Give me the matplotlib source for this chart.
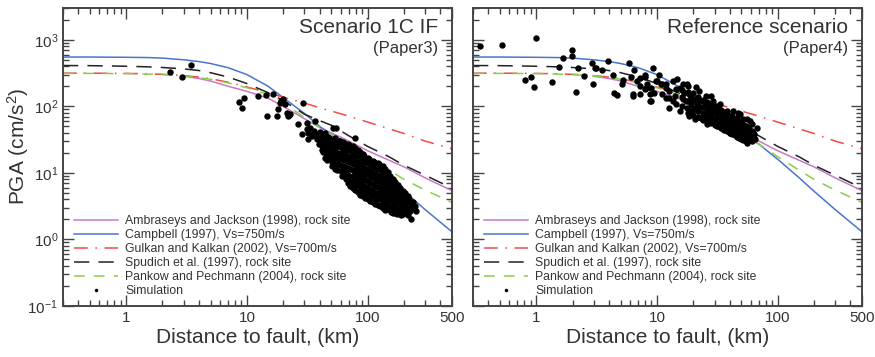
import matplotlib
matplotlib.use("Agg")
import matplotlib.pyplot as plt
from matplotlib.lines import Line2D
from matplotlib.ticker import LogLocator, NullFormatter, FixedLocator, FixedFormatter

plt.rcParams['font.family'] = ['Liberation Sans', 'DejaVu Sans']
plt.rcParams['mathtext.fontset'] = 'custom'
plt.rcParams['mathtext.rm'] = 'Liberation Sans'
plt.rcParams['mathtext.it'] = 'Liberation Sans:italic'

GRAY = '#444444'

# distances (km) at which the attenuation curves were read
CURVE_DIST = [0.3, 0.5, 1, 1.5, 2, 3, 4, 5, 7, 10, 15, 20, 30, 40, 50, 70, 100, 150, 200, 300, 500]
CAMPBELL = [550, 550, 545, 540, 530, 500, 470, 440, 380, 300, 200, 135, 78, 50, 38, 27, 16, 8.5, 5.3, 2.8, 1.3]
SPUDICH = [410, 408, 400, 392, 383, 365, 345, 320, 275, 220, 160, 122, 76, 61, 52, 36, 25, 17.5, 13, 9.2, 5.9]
GULKAN = [315, 315, 312, 308, 302, 290, 275, 260, 230, 195, 160, 137, 112, 95, 85, 71, 58, 46, 39, 30, 23]
PANKOW = [312, 312, 310, 305, 300, 288, 270, 255, 225, 190, 150, 113, 68, 48, 38, 27, 17.5, 11, 8.0, 5.5, 3.6]
AMBR_DIST = [3, 4, 5, 7, 10, 15, 20, 30, 40, 50, 70, 100, 150, 200, 300, 500]
AMBRASEYS = [282, 262, 240, 200, 168, 132, 100, 65, 48, 40, 30, 21.5, 15.5, 12.3, 8.4, 5.4]

LABELS = ['Ambraseys and Jackson (1998), rock site',
          'Campbell (1997), Vs=750m/s',
          'Gulkan and Kalkan (2002), Vs=700m/s',
          'Spudich et al. (1997), rock site',
          'Pankow and Pechmann (2004), rock site',
          'Simulation']

# simulated PGA, scenario 1C IF (Paper3)
SIM1_DIST = [2.3, 2.9, 3.46, 8.6, 9.1, 9.5, 12.4, 14.4, 14.7, 16.5, 17.8, 18.2, 18.9, 19.2, 20, 20.5,
             21.6, 22.4, 22.8, 22, 26.6, 29.3, 28.7, 31.6, 31.2, 32.2, 31.9, 33.4, 35.4, 34.8, 36.8,
             36.2, 38.2, 37.6, 40.5, 42.9, 44.5, 49, 48.5, 49.5, 51.9, 51.2, 52.5, 54, 54.8, 53.5,
             57, 56, 57.5, 59.3, 61.6, 65.2, 67.8, 69, 79,
             40, 41, 39.5, 41.5,
             44, 45, 43.5, 45.5, 44.5,
             48, 50, 49, 48.5, 50.5,
             53, 55, 54, 53.5, 55.5, 54,
             58, 60, 59, 61, 58.5, 60,
             64, 66, 65, 67, 64.5, 65.5, 66,
             70, 73, 71, 74, 72, 69, 73, 71,
             78, 80, 77, 81, 79, 78, 80, 79,
             86, 88, 85, 89, 87, 86, 88, 87,
             94, 96, 93, 97, 95, 94, 96, 95,
             103, 106, 104, 107, 105, 103, 106, 104,
             114, 117, 115, 118, 116, 114, 117, 116,
             125, 129, 126, 130, 127, 125, 128, 127,
             138, 142, 139, 143, 140, 138, 141, 140,
             152, 156, 153, 157, 154, 152, 155,
             167, 171, 168, 172, 169, 167,
             184, 188, 185, 189, 186, 188,
             203, 207, 204, 206,
             222, 227, 224, 228,
             245, 250,
             42.5, 43, 42, 42.5,
             46.7, 47, 46, 47.5, 46.5,
             51.5, 52, 51, 52.5, 51.5, 51,
             56.6, 57, 56, 57.5, 56.5, 56,
             62.2, 63, 62, 63.5, 62.5, 62, 61.5,
             68.5, 69, 68, 69.5, 68.5, 68, 69, 68.5,
             75.4, 76, 75, 76.5, 75.5, 75, 76, 75.4,
             82.9, 83.5, 82, 84, 83, 82.5, 83.5, 83,
             91, 92, 90, 92.5, 91, 90.5, 92, 91,
             100, 101, 99, 102, 100, 99.5, 101, 100,
             110, 111, 109, 112, 110, 109, 111, 110,
             121, 122, 120, 123, 121, 120, 122, 121,
             133, 135, 132, 136, 133, 132, 134, 133,
             147, 149, 146, 150, 147, 146, 148,
             161, 163, 160, 164, 161, 160, 162,
             177, 179, 176, 180, 177, 176,
             196, 198, 195, 199, 196,
             215, 217, 214, 218,
             236, 238]
SIM1_PGA = [333, 280, 424, 115, 93, 132, 141, 146, 71, 151, 71, 90, 111, 119, 127, 107,
            79, 73, 76, 71, 54, 111, 38, 45, 56, 40, 32, 47, 38, 36, 60,
            42, 32, 38, 33, 28, 40, 30, 24, 17, 47, 24, 19, 33, 47, 21,
            25, 17, 16, 30, 20, 27, 23, 17, 33,
            41, 33, 27, 22,
            37, 30, 24.4, 20, 17,
            33, 27, 22, 18, 14.6,
            31, 25, 20.6, 17, 13.6, 11.5,
            30, 24.4, 20, 16, 13.2, 10.7,
            28, 23, 18.6, 15, 12.3, 10, 8.1,
            26, 21, 17.3, 14.1, 11.5, 9.3, 7.6, 6.4,
            24, 19, 15.6, 12.7, 10.4, 8.4, 6.9, 5.6,
            20.6, 17, 13.6, 11.1, 9.0, 7.3, 6.0, 4.7,
            18, 14.6, 11.9, 9.7, 7.9, 6.4, 5.2, 4.2,
            16, 13.2, 10.7, 8.7, 7.1, 5.8, 4.7, 3.8,
            14.6, 11.9, 9.7, 7.9, 6.4, 5.2, 4.2, 3.4,
            13.6, 11.1, 9.0, 7.3, 6.0, 4.9, 4.0, 3.2,
            11.5, 9.3, 7.6, 6.2, 5.0, 4.1, 3.3, 2.8,
            9.0, 7.3, 6.0, 4.9, 4.0, 3.2, 2.6,
            7.3, 6.0, 4.9, 4.0, 3.2, 2.5,
            6.0, 4.9, 4.0, 3.2, 2.6, 2.3,
            4.9, 4.0, 3.2, 2.6,
            4.1, 3.3, 2.7, 2.0,
            3.2, 2.7,
            38, 31, 25, 20.5,
            35, 28, 23, 18.5, 15.5,
            32, 26, 21, 17.5, 14, 12.5,
            30, 25, 20, 16.5, 13.5, 11,
            29, 23.5, 19, 15.5, 12.7, 10.3, 9.0,
            27, 22, 18, 14.5, 12, 9.7, 7.9, 7.0,
            25, 20, 16.5, 13.4, 11, 8.9, 7.2, 6.0,
            22, 18, 14.6, 12, 9.8, 8, 6.5, 5.2,
            19.3, 15.8, 12.8, 10.4, 8.5, 6.9, 5.6, 4.5,
            17, 13.9, 11.3, 9.2, 7.5, 6.1, 5.0, 4.0,
            15.3, 12.5, 10.2, 8.3, 6.8, 5.5, 4.5, 3.6,
            14, 11.5, 9.3, 7.6, 6.2, 5.0, 4.1, 3.3,
            12.5, 10.2, 8.3, 6.8, 5.5, 4.5, 3.7, 3.0,
            10.2, 8.3, 6.8, 5.5, 4.5, 3.6, 2.9,
            8.1, 6.6, 5.4, 4.4, 3.6, 2.9, 2.5,
            6.6, 5.4, 4.4, 3.6, 2.9, 2.4,
            5.4, 4.4, 3.6, 2.9, 2.4,
            4.5, 3.6, 2.9, 2.3,
            3.6, 3.0]

# simulated PGA, reference scenario (Paper4)
SIM2_DIST = [0.343, 0.52, 1.0, 0.81, 0.91, 0.96, 1.36, 1.55, 1.68, 1.99, 1.99, 2.15, 2.23, 2.5,
             2.9, 3.1, 3.15, 3.5, 2.97, 3.9, 4.3, 4.4, 4.7, 5.1, 5.9, 5.2, 6.3, 6.1, 6.9, 7.2,
             7.9, 8.3, 9.2, 9.0, 8.8, 8.2, 10.1, 11.1, 12.0, 12.7,
             6.5, 7.9, 10.5, 9.0, 8.7, 6.3, 7.2, 9.5, 11.1, 12.0, 12.7, 13.5, 14.8, 15.4, 16.3,
             16.9, 17.9, 12.7, 14.5, 16.3, 18.6, 19.3, 18.6, 21.3, 22.5, 23.9, 25.8, 27.3, 30,
             31.2, 27.3, 23.4, 33, 35, 37.8, 40, 42.4, 45.7, 46.6, 50.2, 53.2, 56.4, 58.6, 62,
             64.4, 55.3, 48.4, 40, 35, 31.2, 25.8, 28.9, 33, 42.4, 48.4, 55.3, 60.8, 67, 21.3,
             19.7, 17.6, 15.4, 13.5, 12.0, 10.9, 9.9, 7.9, 7.2,
             22.5, 24.8, 28.3, 31.8, 34.3, 36.3, 38.5, 41.5, 44, 46.6, 51.3, 53.2, 58.6, 44,
             37, 30, 24.8, 20.5, 21.7, 28.3, 19.3, 17.3, 14, 14.3, 22.5, 20.9, 25.3,
             16, 16, 16, 18, 18, 18, 18, 20, 20, 20, 20, 22, 22, 22, 22,
             24, 24, 24, 24, 26, 26, 26, 26, 28, 28, 28, 28, 30, 30, 30, 30,
             32, 32, 32, 32, 34, 34, 34, 34, 36, 36, 36, 36, 38, 38, 38, 38,
             40, 40, 40, 40, 42, 42, 42, 42, 44, 44, 44, 44, 46, 46, 46, 46,
             48, 48, 48, 48, 50, 50, 50, 50, 52, 52, 52, 52, 55, 55, 55, 55,
             58, 58, 58, 61, 61, 61, 64, 64]
SIM2_PGA = [815, 840, 1070, 245, 280, 192, 230, 395, 540, 690, 575, 162, 370, 290,
            440, 380, 370, 356, 220, 485, 300, 156, 150, 213, 440, 250, 141, 280, 236, 262,
            280, 213, 382, 119, 151, 186, 236, 213, 186, 132,
            357, 300, 300, 186, 119, 151, 199, 156, 151, 213, 167, 236, 253, 186, 213,
            156, 213, 93, 107, 127, 151, 107, 71, 132, 93, 119, 84, 107, 90,
            66, 64, 66, 76, 56, 84, 64, 50, 66, 47, 56, 42, 47, 36, 40,
            32, 28, 36, 40, 45, 50, 54, 119, 107, 84, 76, 64, 54, 47, 107,
            84, 93, 84, 119, 132, 213, 236, 179, 151,
            119, 100, 79, 90, 64, 76, 56, 71, 60, 79, 64, 50, 60, 42,
            47, 60, 71, 64, 84, 141, 141, 119, 141, 179, 167, 193, 141,
            100, 140, 175, 80, 120, 165, 200, 75, 95, 125, 160, 70, 85, 105, 140,
            62, 78, 98, 125, 60, 72, 95, 115, 56, 70, 88, 100, 52, 65, 80, 100,
            50, 60, 74, 95, 48, 58, 70, 88, 44, 55, 68, 82, 42, 52, 62, 76,
            40, 50, 58, 72, 38, 46, 56, 68, 37, 45, 54, 65, 35, 42, 52, 62,
            33, 40, 50, 58, 32, 38, 46, 54, 31, 37, 44, 52, 30, 35, 42, 50,
            31, 38, 45, 30, 36, 43, 33, 38]


def draw_panel(ax, sim_d, sim_p, title, subtitle, show_ylabels):
    ax.plot(AMBR_DIST, AMBRASEYS, color='#c67ac6', lw=1.1, label=LABELS[0])
    ax.plot(CURVE_DIST, CAMPBELL, color='#4a76c8', lw=1.1, label=LABELS[1])
    ax.plot(CURVE_DIST, GULKAN, color='#f04a4a', lw=1.1, dashes=(9, 5, 1, 5), label=LABELS[2])
    ax.plot(CURVE_DIST, SPUDICH, color='#222222', lw=1.1, dashes=(10, 6), label=LABELS[3])
    ax.plot(CURVE_DIST, PANKOW, color='#8ccc48', lw=1.1, dashes=(7, 6), label=LABELS[4])
    ax.plot(sim_d, sim_p, ls='none', marker='o', ms=4.6, color='black', mec='none', zorder=3)

    ax.set_xscale('log')
    ax.set_yscale('log')
    ax.set_xlim(0.3, 500)
    ax.set_ylim(0.1, 3000)

    ax.xaxis.set_major_locator(FixedLocator([1, 10, 100, 500]))
    ax.xaxis.set_major_formatter(FixedFormatter(['1', '10', '100', '500']))
    ax.xaxis.set_minor_locator(LogLocator(base=10, subs=range(2, 10), numticks=20))
    ax.xaxis.set_minor_formatter(NullFormatter())
    ax.yaxis.set_major_locator(LogLocator(base=10, numticks=10))
    ax.yaxis.set_minor_locator(LogLocator(base=10, subs=range(2, 10), numticks=20))
    ax.yaxis.set_minor_formatter(NullFormatter())
    if not show_ylabels:
        ax.set_yticklabels([])

    ax.tick_params(which='both', direction='in', top=True, right=True, colors=GRAY,
                   labelcolor='#333333', labelsize=11, width=1)
    ax.tick_params(which='major', length=8)
    ax.tick_params(which='minor', length=4)
    for s in ax.spines.values():
        s.set_color(GRAY)
        s.set_linewidth(1.4)

    ax.set_xlabel('Distance to fault, (km)', fontsize=15, color='#333333', labelpad=2)
    ax.text(0.963, 0.966, title, transform=ax.transAxes, ha='right', va='top',
            fontsize=15, color='#333333')
    ax.text(0.963, 0.888, subtitle, transform=ax.transAxes, ha='right', va='top',
            fontsize=12, color='#333333')

    handles, labels = ax.get_legend_handles_labels()
    handles.append(Line2D([], [], ls='none', marker='o', ms=1.5, color='black'))
    labels.append(LABELS[5])
    ax.legend(handles, labels, loc='lower left', bbox_to_anchor=(0.0, -0.008), frameon=False,
              fontsize=8.8, handlelength=3.6, handletextpad=0.6, labelspacing=0.17,
              borderaxespad=0.5, labelcolor='#333333')


fig = plt.figure(figsize=(8.75, 3.57), dpi=100)
ax1 = fig.add_axes([0.072, 0.1429, 0.4446, 0.8347])
ax2 = fig.add_axes([0.5406, 0.1429, 0.4446, 0.8347])

draw_panel(ax1, SIM1_DIST, SIM1_PGA, 'Scenario 1C IF', '(Paper3)', True)
draw_panel(ax2, SIM2_DIST, SIM2_PGA, 'Reference scenario', '(Paper4)', False)
ax1.set_ylabel('PGA (cm/s$^2$)', fontsize=15, color='#333333')
ax1.yaxis.set_label_coords(-0.082, 0.535)

fig.savefig('out.png', dpi=100)
